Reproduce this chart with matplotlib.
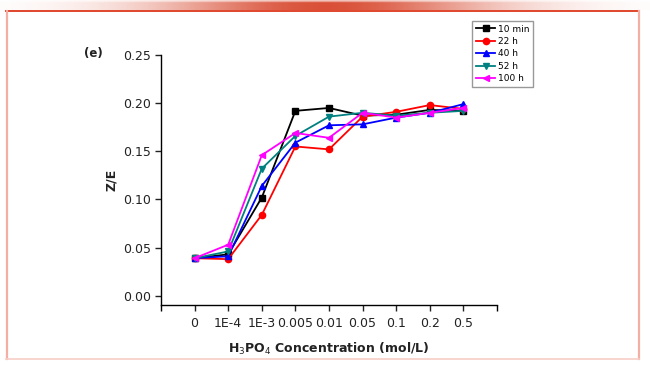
import numpy as np
import matplotlib
matplotlib.use("Agg")
import matplotlib.pyplot as plt
from matplotlib.lines import Line2D

categories = ["0", "1E-4", "1E-3", "0.005", "0.01", "0.05", "0.1", "0.2", "0.5"]
series_names = ["10 min", "22 h", "40 h", "52 h", "100 h"]
z_10min = [0.039, 0.043, 0.102, 0.192, 0.195, 0.187, 0.188, 0.193, 0.192]
z_22h   = [0.039, 0.038, 0.084, 0.155, 0.152, 0.186, 0.191, 0.198, 0.194]
z_40h   = [0.039, 0.041, 0.114, 0.159, 0.177, 0.178, 0.185, 0.190, 0.199]
z_52h   = [0.039, 0.046, 0.132, 0.166, 0.186, 0.190, 0.187, 0.190, 0.192]
z_100h  = [0.039, 0.053, 0.146, 0.169, 0.164, 0.190, 0.185, 0.190, 0.195]
y_ticks = [0.00, 0.05, 0.10, 0.15, 0.20, 0.25]

colors = ["#000000", "#ff0000", "#0000ff", "#008080", "#ff00ff"]
markers = ["s", "o", "^", "v", "<"]
series = [z_10min, z_22h, z_40h, z_52h, z_100h]

W, H = 650, 370
fig = plt.figure(figsize=(6.5, 3.7), dpi=100)
fig.patch.set_facecolor("white")

def fx(px): return px / W
def fy(py): return 1 - py / H

# top gradient band
grad_ax = fig.add_axes([0, fy(10.5), 1, 10.5 / H])
gx = np.linspace(0, 1, 650)
gy = np.linspace(0, 1, 21)   # bottom (0) -> top (1)
GX, GY = np.meshgrid(gx, gy)
d = np.abs(GX - 0.5) * 2
horiz = np.exp(-(d / 0.5) ** 2) * 0.9 + 0.08 * (1 - d)
vert = np.where(GY < 0.72, 1.0, np.clip(1 - (GY - 0.72) / 0.28, 0, 1) * 0.6 + 0.1)
img = np.zeros((len(gy), len(gx), 4))
img[..., 0] = 0.85
img[..., 1] = 0.30
img[..., 2] = 0.20
img[..., 3] = np.clip(horiz * vert, 0, 1)
grad_ax.imshow(img, aspect="auto", origin="lower", extent=[0, 1, 0, 1],
               interpolation="bilinear")
grad_ax.axis("off")

fig.add_artist(Line2D([fx(6), fx(639)], [fy(10.5), fy(10.5)], color="#e0452b", lw=1.4))
fig.add_artist(Line2D([fx(6.5), fx(6.5)], [fy(10.5), fy(359)], color="#f4aea4", lw=1.6))
fig.add_artist(Line2D([fx(638.5), fx(638.5)], [fy(10.5), fy(359)], color="#f4aea4", lw=1.6))
fig.add_artist(Line2D([fx(6), fx(639)], [fy(359), fy(359)], color="#f8cdc6", lw=1.2))

ax = fig.add_axes([fx(161), fy(304.7), fx(497) - fx(161), fy(55) - fy(304.7)])
x = np.arange(len(categories))
handles = []
for vals, c, m, name in zip(series, colors, markers, series_names):
    h, = ax.plot(x, vals, color=c, marker=m, markersize=4.5, lw=1.3, label=name)
    handles.append(h)

ax.set_xlim(-1, 9)
ax.set_ylim(-0.0093, 0.25)
ax.set_xticks(x)
ax.set_xticklabels(categories)
ax.set_xticks([-1, 9], minor=True)
ax.set_yticks(y_ticks)
ax.set_yticklabels([f"{v:.2f}" for v in y_ticks])
ax.spines["top"].set_visible(False)
ax.spines["right"].set_visible(False)
for s in ["left", "bottom"]:
    ax.spines[s].set_linewidth(1.0)
ax.tick_params(axis="both", which="major", direction="out", length=4, width=1,
               labelsize=9, colors="#222222", labelcolor="#222222")
ax.tick_params(axis="x", which="minor", direction="out", length=4, width=1)
ax.tick_params(axis="x", pad=5)
ax.tick_params(axis="y", pad=3)

ax.set_xlabel(r"H$_3$PO$_4$ Concentration (mol/L)", fontsize=9, fontweight="bold",
              color="#222222", labelpad=8)
ax.set_ylabel("Z/E", fontsize=9, fontweight="bold", color="#222222", labelpad=4)
fig.text(fx(93), fy(54), "(e)", fontsize=8.5, fontweight="bold", ha="center",
         va="center", color="#222222")

leg = fig.legend(handles=handles, loc="upper left",
                 bbox_to_anchor=(fx(472), fy(21)), fontsize=6.5, frameon=True,
                 fancybox=False, edgecolor="#999999", framealpha=1,
                 handlelength=2.2, handletextpad=0.3, labelspacing=0.38,
                 borderpad=0.4, borderaxespad=0)
leg.get_frame().set_linewidth(1.0)

fig.savefig("out.png", dpi=100)
